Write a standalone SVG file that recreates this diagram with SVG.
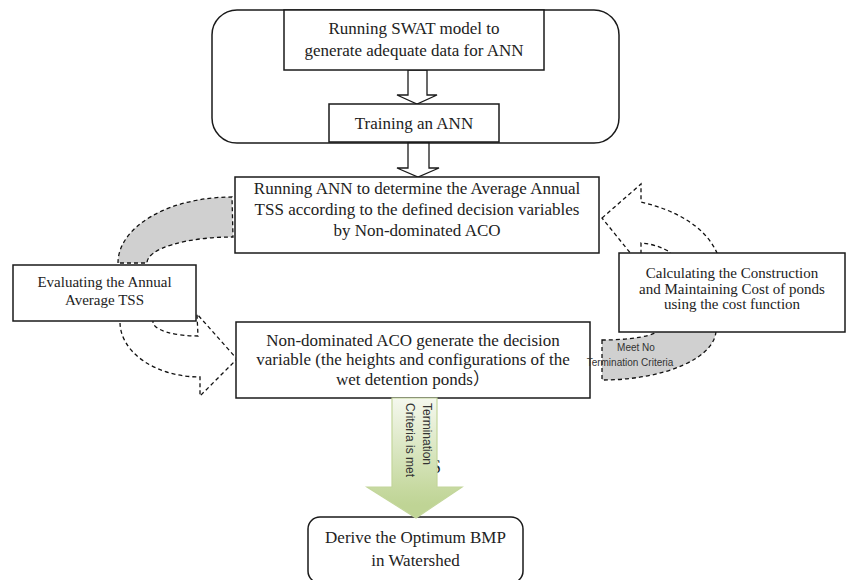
<svg xmlns="http://www.w3.org/2000/svg" width="846" height="580" viewBox="0 0 846 580">
<defs>
<style>
.box{fill:#fff;stroke:#1a1a1a;stroke-width:1.5}
.t{font-family:"Liberation Serif","Noto Sans CJK SC",serif;fill:#222;text-anchor:middle;dominant-baseline:central}
.t17{font-size:17px}
.t15{font-size:15px}
.dash{stroke:#111;stroke-width:1.3;stroke-dasharray:4 3}
.grey{fill:#d0d0d0}
.white{fill:#fff}
.hollow{fill:#fff;stroke:#1a1a1a;stroke-width:1.3}
.s{font-family:"Liberation Sans","DejaVu Sans",sans-serif;fill:#333}
</style>
<linearGradient id="gr" x1="0" y1="398" x2="0" y2="505" gradientUnits="userSpaceOnUse">
<stop offset="0" stop-color="#f5f8ee"/>
<stop offset="0.85" stop-color="#c6d9a0"/>
<stop offset="1" stop-color="#bfd495"/>
</linearGradient>
</defs>

<g id="connectors">
<path id="c-eval-to-ann" class="dash grey" d="M118,263 A114,66 0 0 1 232,197 L233,237 A86,26 0 0 0 147,263 Z"/>
<path id="c-eval-to-aco" class="dash white" d="M120,316 L120,322 A80,55 0 0 0 200,377 L200,396 L237,359 L197,314 L198,336 A45,14 0 0 1 153,322 L153,316 Z"/>
<path id="c-cost-to-ann" class="dash white" d="M602,218 L641,184 L641,202 C675,210 705,226 717,253 L717,262 L672,262 L670,252 Q656,244 641,243 L641,262 L637.6,262 Z"/>
<path id="c-aco-to-cost" class="dash grey" d="M602,340 L602,380 A114,50 0 0 0 716,330 L716,326 L657,326 L657,330 A55,10 0 0 1 602,340 Z"/>
<polygon id="c-swat-to-train" class="hollow" points="408,70 427,70 427,95 437,95 417,104 397,95 408,95"/>
<polygon id="c-train-to-ann" class="hollow" points="408,142 429,142 429,168 439,168 418,177 397,168 408,168"/>
</g>

<g id="group-outer">
<rect x="212" y="10" width="407" height="133" rx="25" ry="25" fill="none" stroke="#1a1a1a" stroke-width="1.5"/>
</g>

<g id="node-swat">
<rect class="box" x="284" y="10" width="260" height="60"/>
<text class="t t17" x="414" y="28">Running SWAT model to</text>
<text class="t t17" x="414" y="50">generate adequate data for ANN</text>
</g>

<g id="node-train">
<rect class="box" x="329" y="104" width="170" height="38"/>
<text class="t t17" x="414" y="123">Training an ANN</text>
</g>

<g id="node-ann">
<rect class="box" x="235" y="177" width="364" height="76"/>
<text class="t t17" x="417" y="188">Running ANN to determine the Average Annual</text>
<text class="t t17" x="417" y="209">TSS according to the defined decision variables</text>
<text class="t t17" x="417" y="230">by Non-dominated ACO</text>
</g>

<g id="node-eval">
<rect class="box" x="13" y="265" width="183" height="56"/>
<text class="t t15" x="104.5" y="282">Evaluating the Annual</text>
<text class="t t15" x="104.5" y="300">Average TSS</text>
</g>

<g id="node-cost">
<rect class="box" x="619" y="253" width="226" height="79"/>
<text class="t t15" x="732" y="273">Calculating the Construction</text>
<text class="t t15" x="732" y="288.5">and Maintaining Cost of ponds</text>
<text class="t t15" x="732" y="304">using the cost function</text>
</g>

<g id="node-aco">
<rect class="box" x="236" y="322" width="354" height="76"/>
<text class="t t17" x="413" y="340">Non-dominated ACO generate the decision</text>
<text class="t t17" x="413" y="359.5">variable (the heights and configurations of the</text>
<text class="t t17" x="413" y="379">wet detention ponds）</text>
</g>

<g id="label-meet-no">
<text class="s" x="636" y="347" font-size="10" text-anchor="middle" dominant-baseline="central">Meet No</text>
<text class="s" x="630" y="362" font-size="10" text-anchor="middle" dominant-baseline="central">Termination Criteria</text>
</g>

<g id="node-derive">
<rect class="box" x="308" y="517" width="215" height="66" rx="12" ry="12"/>
<text class="t t17" x="415.5" y="537">Derive the Optimum BMP</text>
<text class="t t17" x="415.5" y="560">in Watershed</text>
</g>

<g id="green-arrow">
<text x="431" y="473" font-family="Liberation Serif, serif" font-size="18" fill="#222">S</text>
<polygon points="392,398 437,398 437,487 462,487 416,518 367,487 392,487" fill="url(#gr)" stroke="#c3d69b" stroke-width="1.2"/>
<g transform="translate(427,403) rotate(90)">
<text class="s" x="0" y="0" font-size="12" dominant-baseline="central">Termination</text>
</g>
<g transform="translate(410,403) rotate(90)">
<text class="s" x="0" y="0" font-size="12" dominant-baseline="central">Criteria is met</text>
</g>
</g>
</svg>
